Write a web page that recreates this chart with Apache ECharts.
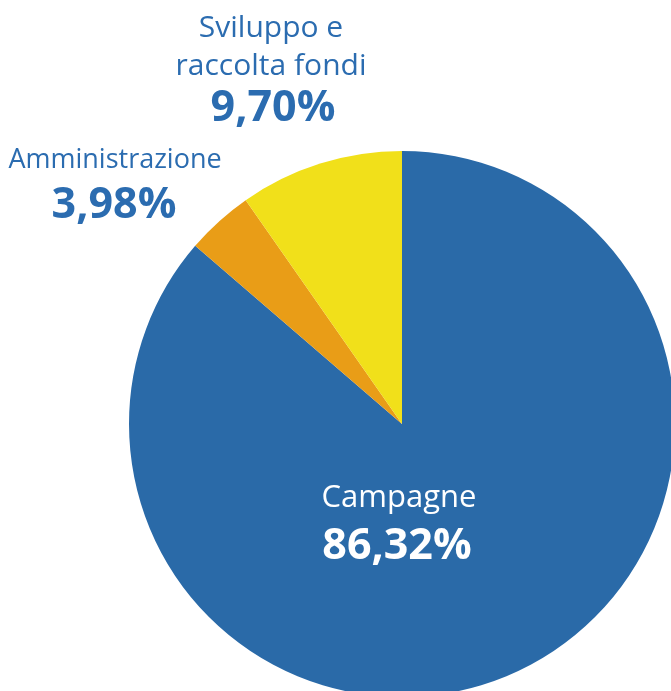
<!DOCTYPE html>
<html><head><meta charset="utf-8">
<script src="https://cdn.jsdelivr.net/npm/echarts@6/dist/echarts.min.js"></script>
<style>html,body{margin:0;padding:0;background:#fff}#c{width:671px;height:691px}</style>
</head><body><div id="c"></div>
<script>
const categories = ['Campagne', 'Amministrazione', 'Sviluppo e\nraccolta fondi'];
const values = [86.32, 3.98, 9.70];
const colors = ['#2a6aa8', '#e99d17', '#f1e01a'];
const fmt = v => v.toFixed(2).replace('.', ',') + '%';

const chart = echarts.init(document.getElementById('c'));
const labelPos = [
  {x: 399, y: 498, px: 397, py: 547, size: 31, color: '#ffffff'},
  {x: 115, y: 160, px: 114, py: 206, size: 27, color: '#2b6cb0'},
  {x: 271, y: 28, px: 273, py: 109, size: 30, color: '#2b6cb0'}
];
const graphics = [];
categories.forEach((name, i) => {
  const p = labelPos[i];
  name.split('\n').forEach((line, k) => {
    graphics.push({
      type: 'text', x: p.x, y: p.y + k * 38, z: 100,
      style: {
        text: line, fill: p.color, font: p.size + 'px "Open Sans"',
        align: 'center', verticalAlign: 'middle'
      }
    });
  });
  graphics.push({
    type: 'text', x: p.px, y: p.py, z: 100,
    style: {
      text: fmt(values[i]), fill: p.color, font: 'bold 43px "Open Sans"',
      align: 'center', verticalAlign: 'middle'
    }
  });
});
chart.setOption({
  animation: false,
  series: [{
    type: 'pie',
    center: [402, 424],
    radius: 273,
    startAngle: 90,
    clockwise: true,
    label: {show: false},
    labelLine: {show: false},
    data: categories.map((n, i) => ({name: n, value: values[i], itemStyle: {color: colors[i]}}))
  }],
  graphic: graphics
});
</script></body></html>
